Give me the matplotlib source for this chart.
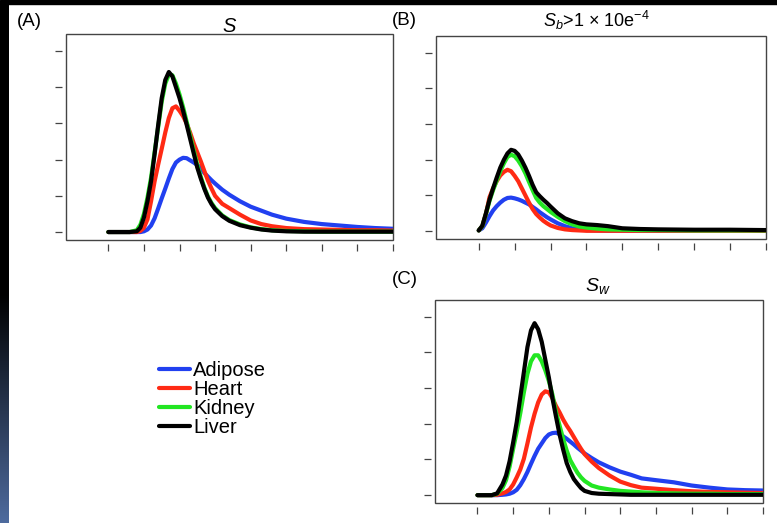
import numpy as np
import matplotlib.pyplot as plt
from matplotlib.patches import Rectangle
from matplotlib.colors import LinearSegmentedColormap

plt.rcParams['font.family'] = ['Liberation Sans', 'DejaVu Sans']
plt.rcParams['mathtext.fontset'] = 'custom'
plt.rcParams['mathtext.rm'] = 'Liberation Sans'
plt.rcParams['mathtext.it'] = 'Liberation Sans:italic'

tissues = ['Adipose', 'Heart', 'Kidney', 'Liver']
colors = ['#2140f0', '#ff2a14', '#22e622', '#000000']

# (A) S
xa = [0, 0.6, 0.8, 0.9, 1.0, 1.1, 1.2, 1.3, 1.4, 1.5, 1.6, 1.7, 1.8, 1.9, 2.0, 2.1, 2.2, 2.3, 2.4,
      2.5, 2.6, 2.7, 2.8, 2.9, 3.0, 3.2, 3.4, 3.7, 4.0, 4.3, 4.6, 5.0, 5.5, 6.0, 6.5, 7.0, 7.5, 8.0]
a_adipose = [0, 0, 0, 0, 0.02, 0.07, 0.18, 0.38, 0.65, 0.93, 1.2, 1.48, 1.74, 1.92, 2.0, 2.05, 2.04,
             1.98, 1.92, 1.85, 1.76, 1.63, 1.53, 1.43, 1.34, 1.17, 1.03, 0.85, 0.70, 0.59, 0.48,
             0.37, 0.28, 0.22, 0.18, 0.14, 0.11, 0.09]
a_heart = [0, 0, 0, 0.03, 0.12, 0.35, 0.85, 1.4, 1.86, 2.3, 2.75, 3.15, 3.42, 3.47, 3.35, 3.2, 3.0,
           2.74, 2.45, 2.2, 1.95, 1.68, 1.42, 1.2, 1.0, 0.78, 0.66, 0.48, 0.32, 0.22, 0.16, 0.11,
           0.08, 0.07, 0.06, 0.05, 0.05, 0.04]
a_kidney = [0, 0, 0.05, 0.2, 0.5, 0.95, 1.5, 2.2, 2.9, 3.6, 4.1, 4.35, 4.33, 4.1, 3.8, 3.45, 3.05,
            2.65, 2.25, 1.85, 1.52, 1.22, 0.98, 0.8, 0.66, 0.46, 0.33, 0.21, 0.13, 0.08, 0.05,
            0.03, 0.02, 0.01, 0.01, 0.01, 0.01, 0.01]
a_liver = [0, 0, 0.02, 0.12, 0.4, 0.85, 1.4, 2.15, 2.95, 3.7, 4.2, 4.42, 4.3, 4.0, 3.7, 3.35, 2.97,
           2.57, 2.17, 1.78, 1.47, 1.19, 0.95, 0.77, 0.63, 0.44, 0.31, 0.19, 0.12, 0.07, 0.04,
           0.02, 0.01, 0.01, 0.01, 0.01, 0.01, 0.01]

# (B) Sb > 1e-4
xb = [0, 0.1, 0.2, 0.3, 0.4, 0.5, 0.6, 0.7, 0.8, 0.9, 1.0, 1.1, 1.2, 1.3, 1.4, 1.5, 1.6, 1.7,
      1.8, 1.9, 2.0, 2.2, 2.4, 2.6, 2.8, 3.0, 3.3, 3.6, 4.0, 4.5, 5.0, 6.0, 7.0, 8.0]
b_adipose = [0.02, 0.08, 0.24, 0.42, 0.58, 0.7, 0.8, 0.88, 0.93, 0.94, 0.92, 0.89, 0.85, 0.8,
             0.75, 0.68, 0.61, 0.53, 0.46, 0.39, 0.33, 0.22, 0.14, 0.08, 0.05, 0.03, 0.02, 0.01,
             0.01, 0.01, 0.01, 0.01, 0.01, 0.01]
b_heart = [0.02, 0.14, 0.48, 0.95, 1.2, 1.4, 1.56, 1.66, 1.72, 1.68, 1.55, 1.4, 1.2, 1.0, 0.8,
           0.62, 0.48, 0.38, 0.29, 0.22, 0.16, 0.09, 0.05, 0.03, 0.02, 0.01, 0.01, 0.01, 0.01,
           0.01, 0.01, 0.01, 0.01, 0.01]
b_kidney = [0.02, 0.14, 0.48, 0.85, 1.15, 1.42, 1.68, 1.9, 2.08, 2.14, 2.1, 1.98, 1.82, 1.62,
            1.38, 1.15, 0.93, 0.8, 0.7, 0.62, 0.54, 0.4, 0.28, 0.19, 0.13, 0.1, 0.07, 0.05, 0.04,
            0.03, 0.03, 0.02, 0.02, 0.02]
b_liver = [0.02, 0.15, 0.5, 0.88, 1.2, 1.5, 1.78, 2.0, 2.18, 2.28, 2.25, 2.15, 1.98, 1.78, 1.55,
           1.3, 1.09, 0.98, 0.88, 0.79, 0.69, 0.5, 0.36, 0.28, 0.22, 0.19, 0.17, 0.14, 0.08,
           0.06, 0.05, 0.04, 0.04, 0.03]

# (C) Sw
xc = [0, 0.4, 0.55, 0.7, 0.8, 0.9, 1.0, 1.1, 1.2, 1.3, 1.4, 1.5, 1.6, 1.7, 1.8, 1.9, 2.0, 2.1,
      2.2, 2.3, 2.4, 2.5, 2.6, 2.7, 2.8, 2.9, 3.0, 3.2, 3.4, 3.7, 4.0, 4.3, 4.6, 5.0, 5.5, 6.0,
      6.5, 7.0, 7.5, 8.0]
c_adipose = [0, 0, 0, 0.01, 0.02, 0.04, 0.08, 0.15, 0.28, 0.45, 0.65, 0.88, 1.1, 1.3, 1.45, 1.6,
             1.7, 1.74, 1.75, 1.71, 1.65, 1.58, 1.5, 1.42, 1.33, 1.25, 1.17, 1.04, 0.92, 0.78,
             0.66, 0.57, 0.47, 0.42, 0.36, 0.27, 0.21, 0.16, 0.14, 0.13]
c_heart = [0, 0, 0.01, 0.05, 0.09, 0.16, 0.3, 0.5, 0.72, 1.02, 1.45, 1.9, 2.28, 2.6, 2.82, 2.91,
           2.88, 2.72, 2.5, 2.32, 2.12, 1.95, 1.8, 1.63, 1.46, 1.3, 1.15, 0.94, 0.76, 0.55, 0.38,
           0.28, 0.21, 0.18, 0.14, 0.11, 0.09, 0.08, 0.07, 0.06]
c_kidney = [0, 0, 0.04, 0.2, 0.42, 0.8, 1.3, 1.78, 2.3, 2.88, 3.4, 3.75, 3.92, 3.92, 3.75, 3.5,
            3.2, 2.82, 2.32, 1.95, 1.58, 1.25, 0.98, 0.8, 0.63, 0.5, 0.4, 0.27, 0.21, 0.16, 0.12,
            0.1, 0.08, 0.06, 0.05, 0.04, 0.04, 0.03, 0.03, 0.03]
c_liver = [0, 0, 0.05, 0.3, 0.55, 0.95, 1.48, 2.05, 2.75, 3.45, 4.15, 4.62, 4.82, 4.65, 4.3, 3.8,
           3.3, 2.72, 2.2, 1.7, 1.28, 0.9, 0.65, 0.45, 0.32, 0.2, 0.12, 0.06, 0.04, 0.03, 0.02,
           0.01, 0.01, 0.01, 0.01, 0.01, 0.01, 0.01, 0.01, 0.01]

panels = [
    (xa, [a_adipose, a_heart, a_kidney, a_liver]),
    (xb, [b_adipose, b_heart, b_kidney, b_liver]),
    (xc, [c_adipose, c_heart, c_kidney, c_liver]),
]

W, H = 777, 523
fig = plt.figure(figsize=(W / 100, H / 100), dpi=100, facecolor='white')

# slide decoration: black top band and dark-to-blue strip on the left
fig.patches.append(Rectangle((0, 1 - 4 / H), 1, 4 / H, transform=fig.transFigure,
                             color='black', zorder=0))
strip = fig.add_axes([0, 0, 9 / W, 1 - 4 / H])
cmap = LinearSegmentedColormap.from_list('slide', [(0, '#4e6b9e'), (0.44, '#000000'), (1, '#000000')])
strip.imshow(np.linspace(0, 1, 256).reshape(-1, 1), cmap=cmap, aspect='auto', origin='lower')
strip.axis('off')

# axes boxes in pixels: left, top, right, bottom
boxes = [(66, 34, 393, 240), (436, 36, 766, 239), (435, 300, 763, 503)]

axes = []
for (x, series), (l, t, r, b) in zip(panels, boxes):
    ax = fig.add_axes([l / W, (H - b) / H, (r - l) / W, (b - t) / H])
    for y, c, name in zip(series, colors, tissues):
        ax.plot(x, y, color=c, lw=3, label=name, solid_capstyle='round',
                solid_joinstyle='round')
    ax.set_xlim(-1.19, 8)
    ax.set_ylim(-0.22, 5.47)
    ax.set_xticks(range(9))
    ax.set_yticks(range(6))
    ax.set_xticklabels([])
    ax.set_yticklabels([])
    # R-style: ticks detached from the box
    for side in ['left', 'bottom']:
        ax.spines[side].set_position(('outward', 3))
    for s in ax.spines.values():
        s.set_visible(False)
    ax.add_patch(Rectangle((0, 0), 1, 1, transform=ax.transAxes, fill=False,
                           lw=1, ec='#444444', clip_on=False))
    ax.tick_params(direction='out', length=5, width=0.9, color='#444444')
    axes.append(ax)

# panel labels and titles
fig.text(17 / W, 1 - 26 / H, '(A)', fontsize=13.5, va='baseline')
fig.text(392 / W, 1 - 25 / H, '(B)', fontsize=13.5, va='baseline')
fig.text(392 / W, 1 - 284 / H, '(C)', fontsize=13.5, va='baseline')

fig.text(230 / W, 1 - 32 / H, '$S$', fontsize=14.5, ha='center', va='baseline')
fig.text(543 / W, 1 - 27 / H, r'$S_b$>1 × 10e$^{-4}$', fontsize=13, ha='left', va='baseline')
fig.text(585 / W, 1 - 291 / H, '$S_w$', fontsize=14, ha='left', va='baseline')

handles = axes[0].get_lines()
fig.legend(handles, tissues, loc='upper left', bbox_to_anchor=(159 / W, 1 - 361 / H),
           frameon=False, fontsize=14.5, handlelength=1.55, handletextpad=0.15,
           labelspacing=0.0, borderpad=0, borderaxespad=0)

fig.savefig('out.png', dpi=100)
